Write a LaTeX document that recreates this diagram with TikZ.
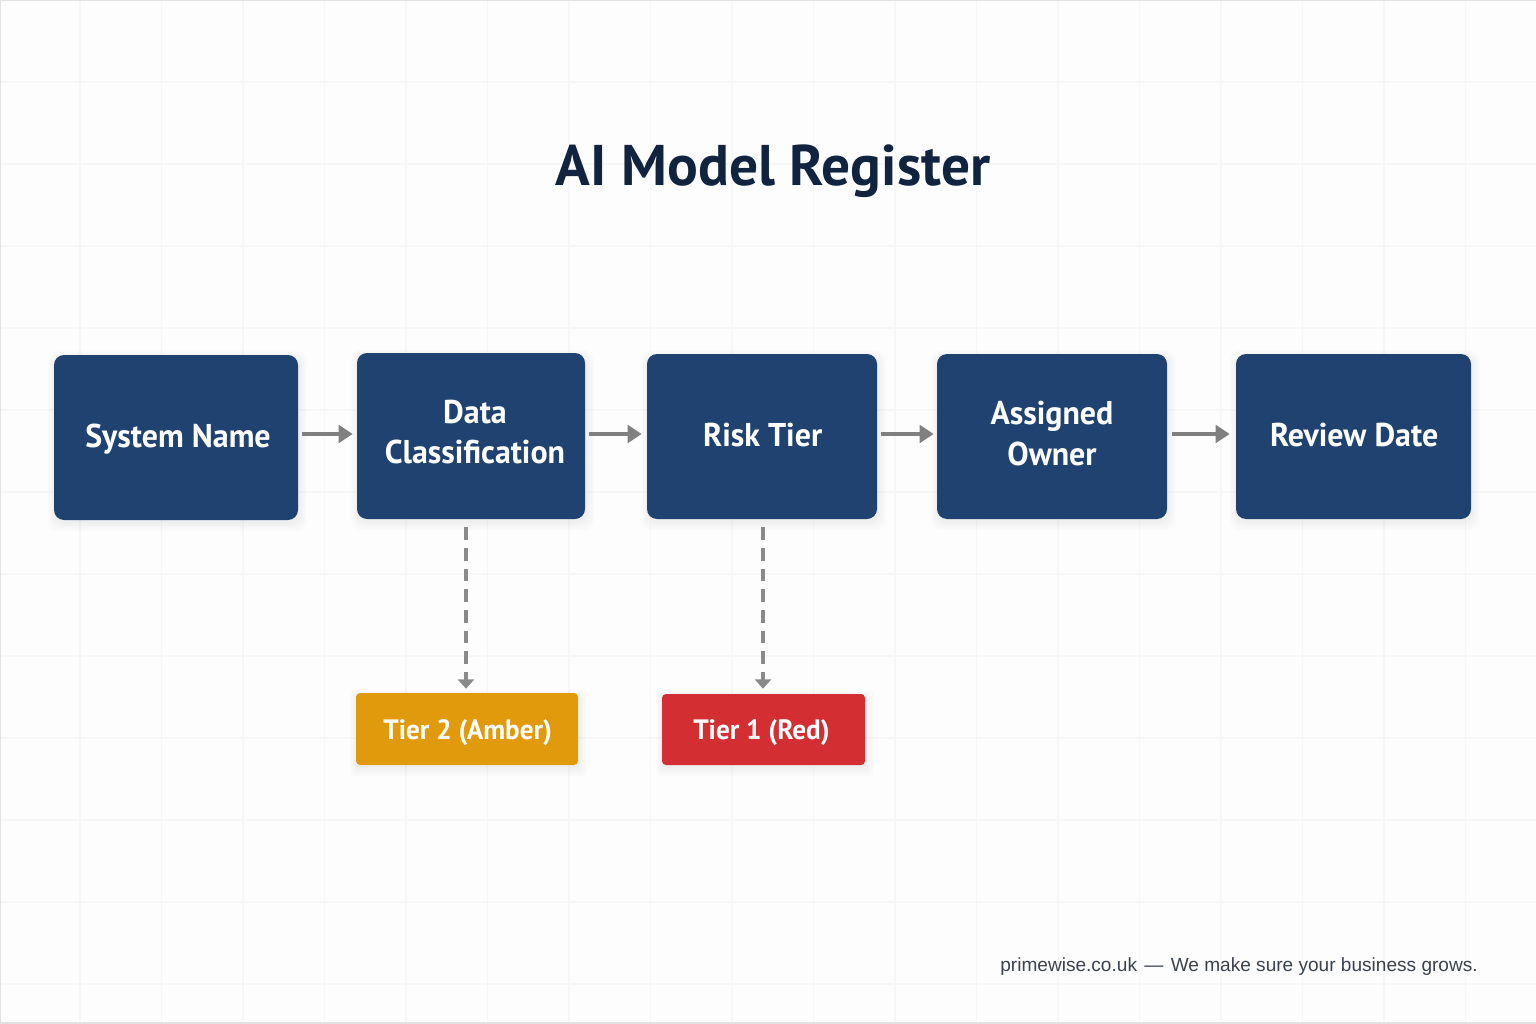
\documentclass[tikz,border=0pt]{standalone}
\usepackage{fontspec}
\usetikzlibrary{arrows.meta,calc}
\setmainfont{Liberation Sans}
\newfontfamily\labfont[FakeStretch=0.97]{PT Sans}
\newfontfamily\headfont[LetterSpace=0.2]{PT Sans}
\definecolor{navy}{HTML}{1F4270}
\definecolor{amberc}{HTML}{E09A0B}
\definecolor{redc}{HTML}{D32F33}
\definecolor{arrowc}{HTML}{808080}
\definecolor{dropc}{HTML}{8A8A8A}
\definecolor{titlec}{HTML}{10243F}
\definecolor{footc}{HTML}{3A4250}
\definecolor{bgc}{HTML}{FDFDFD}
\definecolor{gridc}{HTML}{F7F7F7}
\definecolor{edgec}{HTML}{E2E2E2}
\tikzset{
  x=0.75pt,y=-0.75pt,
  box/.style={rounded corners=7.5pt,inner sep=0pt},
  main/.style={box,fill=navy},
  tier/.style={box,rounded corners=3pt},
  boxtext/.style={text=white,align=center,inner sep=0pt,font=\labfont\fontsize{24.7}{30.5}\selectfont\bfseries},
  tiertext/.style={boxtext,font=\labfont\fontsize{21}{26}\selectfont\bfseries},
  flow/.style={draw=arrowc,line width=3pt,-{Triangle[length=10.5pt,width=13pt]}},
  drop/.style={draw=dropc,line width=2.4pt,dash pattern=on 9.5pt off 6pt,-{Triangle[length=7pt,width=12pt]}},
  shade/.style={fill=black,fill opacity=0.009,draw=none}
}
\newcommand{\softshadow}[5]{% x0 y0 x1 y1 radius
  \foreach \g in {0,2,...,12}{
    \fill[shade,rounded corners=#5] (#1-\g*0.5,#2+2-\g*0.5) rectangle (#3+2+\g*0.6,#4+3+\g*0.7);
  }}
\begin{document}
\begin{tikzpicture}
\useasboundingbox (0,0) rectangle (1536,1024);
\fill[bgc] (0,0) rectangle (1536,1024);
\foreach \i in {1,...,18}{\draw[gridc,line width=0.9pt] (\i*81.5-1.5,0) -- (\i*81.5-1.5,1024);}
\foreach \j in {1,...,12}{\draw[gridc,line width=0.9pt] (0,\j*82) -- (1536,\j*82);}
\draw[edgec,line width=1pt] (0.5,1024) -- (0.5,0.5) -- (1536,0.5);
\draw[edgec,line width=1pt] (0,1023) -- (1536,1023);

\softshadow{54}{355}{298}{520}{7.5pt}
\softshadow{357}{353}{585}{519}{7.5pt}
\softshadow{647}{354}{877}{519}{7.5pt}
\softshadow{937}{354}{1167}{519}{7.5pt}
\softshadow{1236}{354}{1471}{519}{7.5pt}
\softshadow{356}{693}{578}{765}{3pt}
\softshadow{662}{694}{865}{765}{3pt}

\node[font=\headfont\fontsize{43}{50}\selectfont\bfseries,text=titlec,inner sep=0pt] (title) at (773,171) {AI Model Register};

\node[main,minimum width=183pt,minimum height=123.75pt,label={[boxtext,xshift=1.5pt,yshift=-1pt]center:System Name}] (sys) at (176,437.5) {};
\node[main,minimum width=171pt,minimum height=124.5pt,label={[boxtext,xshift=3pt,yshift=3pt]center:Data\\Classification}] (data) at (471,436) {};
\node[main,minimum width=172.5pt,minimum height=123.75pt,label={[boxtext,xshift=0.5pt,yshift=0.8pt]center:Risk Tier}] (risk) at (762,436.5) {};
\node[main,minimum width=172.5pt,minimum height=123.75pt,label={[boxtext,yshift=2pt]center:Assigned\\Owner}] (owner) at (1052,436.5) {};
\node[main,minimum width=176.25pt,minimum height=123.75pt,label={[boxtext,xshift=0.5pt,yshift=0.8pt]center:Review Date}] (review) at (1353.5,436.5) {};
\node[tier,fill=amberc,minimum width=166.5pt,minimum height=54pt,label={[tiertext,xshift=0.5pt,yshift=-2.6pt]center:Tier 2 (Amber)}] (amber) at (467,729) {};
\node[tier,fill=redc,minimum width=152.25pt,minimum height=53.25pt,label={[tiertext,xshift=-1.5pt,yshift=-2.2pt]center:Tier 1 (Red)}] (red) at (763.5,729.5) {};

\draw[flow] ([shift={(4,-3.5)}]sys.east) -- ([shift={(-4,-2)}]data.west);
\draw[flow] ([shift={(4,-2)}]data.east) -- ([shift={(-5,-2.5)}]risk.west);
\draw[flow] ([shift={(4,-2.5)}]risk.east) -- ([shift={(-3,-2.5)}]owner.west);
\draw[flow] ([shift={(5,-2.5)}]owner.east) -- ([shift={(-6,-2.5)}]review.west);
\draw[drop] ([shift={(-5,8)}]data.south) -- ([shift={(-1,-4)}]amber.north);
\draw[drop] ([shift={(1,8)}]risk.south) -- ([shift={(-0.5,-5)}]red.north);

\node[anchor=east,font=\fontsize{14.3}{16}\selectfont,text=footc,inner sep=0pt] (foot) at (1478,966.5) {primewise.co.uk\hspace{5.5pt}—\hspace{5.5pt}We make sure your business grows.};
\end{tikzpicture}
\end{document}
